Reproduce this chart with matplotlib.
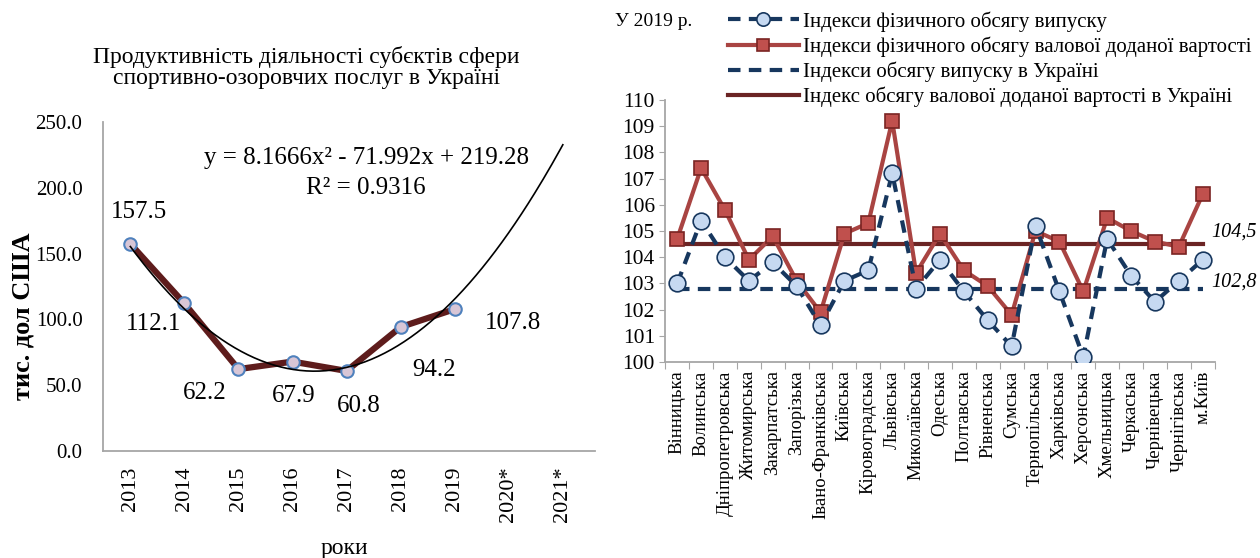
import numpy as np
import matplotlib.pyplot as plt

plt.rcParams['font.family'] = ['Liberation Serif', 'DejaVu Serif']

# ліва діаграма
years = ['2013', '2014', '2015', '2016', '2017', '2018', '2019', '2020*', '2021*']
productivity = [157.5, 112.1, 62.2, 67.9, 60.8, 94.2, 107.8]

# права діаграма
regions = ['Вінницька', 'Волинська', 'Дніпропетровська', 'Житомирська', 'Закарпатська',
           'Запорізька', 'Івано-Франківська', 'Київська', 'Кіровоградська', 'Львівська',
           'Миколаївська', 'Одеська', 'Полтавська', 'Рівненська', 'Сумська', 'Тернопільська',
           'Харківська', 'Херсонська', 'Хмельницька', 'Черкаська', 'Чернівецька',
           'Чернігівська', 'м.Київ']
output_idx = [103.0, 105.4, 104.0, 103.1, 103.8, 102.9, 101.4, 103.1, 103.5, 107.2,
              102.8, 103.9, 102.7, 101.6, 100.6, 105.2, 102.7, 100.2, 104.7, 103.3,
              102.3, 103.1, 103.9]
gva_idx = [104.7, 107.4, 105.8, 103.9, 104.8, 103.1, 101.9, 104.9, 105.3, 109.2,
           103.4, 104.9, 103.5, 102.9, 101.8, 105.0, 104.6, 102.7, 105.5, 105.0,
           104.6, 104.4, 106.4]
ukraine_output = 102.8
ukraine_gva = 104.5


def main():
    fig = plt.figure(figsize=(12.6, 5.58), dpi=100)

    # ---------- ліва діаграма ----------
    ax1 = fig.add_axes([0.082, 0.192, 0.390, 0.589])
    x = np.arange(1, len(productivity) + 1)
    coef = np.polyfit(x, productivity, 2)
    xt = np.linspace(1, 9, 200)
    ax1.plot(xt, np.polyval(coef, xt), color='black', lw=1.2, zorder=3)
    ax1.plot(x, productivity, color='#5e1c1c', lw=4.5, zorder=2,
             marker='o', ms=9, mfc='#d8c6d6', mec='#4f81bd', mew=1.5)

    # зміщення підписів у пунктах
    offsets = [(6, 23), (-22, -15), (-24, -17), (1, -25), (9, -25), (24, -31), (42, -10)]
    for xi, v, off in zip(x, productivity, offsets):
        ax1.annotate(f'{v:.1f}', (xi, v), xytext=off, textcoords='offset points',
                     ha='center', va='center', fontsize=18)

    ax1.text(5.36, 223, 'y = 8.1666x² - 71.992x + 219.28', ha='center', va='center', fontsize=18)
    ax1.text(5.36, 200, 'R² = 0.9316', ha='center', va='center', fontsize=18)

    ax1.set_xlim(0.5, 9.59)
    ax1.set_ylim(0, 250)
    ax1.set_yticks(np.arange(0, 251, 50))
    ax1.set_yticklabels([f'{t:.1f}' for t in np.arange(0, 251, 50)], fontsize=15)
    ax1.set_xticks(np.arange(1, 10))
    ax1.set_xticklabels(years, rotation=90, fontsize=16)
    ax1.tick_params(axis='y', length=0, pad=15)
    ax1.tick_params(axis='x', length=0, pad=11)
    for s in ['top', 'right']:
        ax1.spines[s].set_visible(False)
    for s in ['left', 'bottom']:
        ax1.spines[s].set_color('#a6a6a6')
        ax1.spines[s].set_linewidth(1.3)
    ax1.set_ylabel('тис. дол США', fontsize=19, fontweight='bold')
    ax1.yaxis.set_label_coords(-0.14, 0.41)
    ax1.set_xlabel('роки', fontsize=17)
    ax1.xaxis.set_label_coords(0.49, -0.265)
    fig.text(0.243, 0.879, 'Продуктивність діяльності субєктів сфери\nспортивно-озоровчих послуг в Україні',
             ha='center', va='center', fontsize=17, linespacing=1.0)

    # ---------- права діаграма ----------
    ax2 = fig.add_axes([0.528, 0.351, 0.436, 0.470])
    xr = np.arange(len(regions))
    l1, = ax2.plot(xr, output_idx, color='#17375e', lw=3, ls=(0, (3, 2)), zorder=4,
                   marker='o', ms=12, mfc='#c6d9f1', mec='#17375e', mew=1.2)
    l2, = ax2.plot(xr, gva_idx, color='#a94442', lw=3, zorder=3,
                   marker='s', ms=10.5, mfc='#c0504d', mec='#7a2422', mew=1.2)
    l3, = ax2.plot([xr[0], xr[-1]], [ukraine_output] * 2, color='#17375e', lw=3,
                   ls=(0, (3, 2)), zorder=2)
    l4, = ax2.plot([xr[0], xr[-1]], [ukraine_gva] * 2, color='#6b2424', lw=3, zorder=2)
    ax2.text(xr[-1] + 0.35, ukraine_gva + 0.45, '104,5', fontsize=14.5, style='italic', va='center')
    ax2.text(xr[-1] + 0.35, ukraine_output + 0.25, '102,8', fontsize=14.5, style='italic', va='center')

    ax2.set_xlim(-0.5, len(regions) - 0.5)
    ax2.set_ylim(100, 110)
    ax2.set_yticks(np.arange(100, 111, 1))
    ax2.tick_params(axis='y', labelsize=15.5, direction='out', length=4, color='#a6a6a6')
    ax2.set_xticks(np.arange(-0.5, len(regions), 1), minor=False)
    ax2.set_xticklabels([])
    ax2.tick_params(axis='x', length=5, color='#a6a6a6')
    ax2.set_xticks(xr, minor=True)
    ax2.set_xticklabels(regions, minor=True, rotation=90, fontsize=13.5)
    ax2.tick_params(axis='x', which='minor', length=0, pad=6)
    for s in ['top', 'right']:
        ax2.spines[s].set_visible(False)
    for s in ['left', 'bottom']:
        ax2.spines[s].set_color('#a6a6a6')
        ax2.spines[s].set_linewidth(1.3)

    fig.text(0.488, 0.962, 'У 2019 р.', fontsize=14, va='center')
    fig.legend([l1, l2, l3, l4],
               ['Індекси фізичного обсягу випуску',
                'Індекси фізичного обсягу валової доданої вартості',
                'Індекси обсягу випуску в Україні',
                'Індекс обсягу валової доданої вартості в Україні'],
               loc='upper left', bbox_to_anchor=(0.566, 1.006), frameon=False,
               fontsize=15, handlelength=3.4, handletextpad=0.2, labelspacing=0.22,
               markerscale=0.8, borderpad=0.2)

    fig.savefig('out.png', dpi=100)


if __name__ == '__main__':
    main()
